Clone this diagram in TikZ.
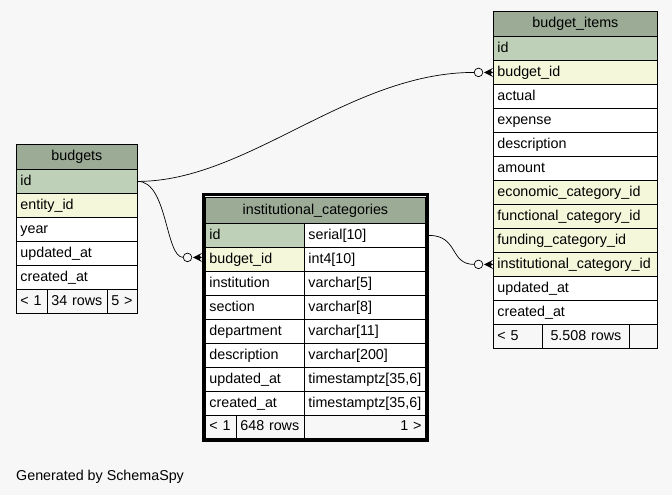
\documentclass[tikz,border=0pt]{standalone}
\usepackage{fontspec}
\setmainfont{Liberation Sans}
\begin{document}
\definecolor{bg}{HTML}{F7F7F7}
\definecolor{hdrc}{HTML}{9BAB96}
\definecolor{pkc}{HTML}{BED1B8}
\definecolor{fkc}{HTML}{F4F7DA}
\newcommand\erdfont{\fontsize{14.3}{17}\selectfont}
% crow's foot with an optional circle, ending at the given coordinate
\newcommand\erdcrow[1]{%
  \draw[edge, fill=bg] ([xshift=-14.5pt]#1) circle (4.3pt);
  \fill ([xshift=-9pt]#1) -- ([yshift=4.5pt]#1) -- ([xshift=-2.5pt,yshift=1.5pt]#1)
        -- (#1) -- ([xshift=-2.5pt,yshift=-1.5pt]#1) -- ([yshift=-4.5pt]#1) -- cycle;
}
\begin{tikzpicture}[x=1pt, y=-1pt,
  cell/.style={draw=black, line width=0.8pt, anchor=north west, inner xsep=4pt,
    inner ysep=0pt, minimum height=24pt, text height=10.5pt, text depth=3pt,
    align=left, font=\erdfont, fill=white},
  hdr/.style={cell, fill=hdrc, align=center, minimum height=25pt},
  pk/.style={cell, fill=pkc},
  fk/.style={cell, fill=fkc},
  foot/.style={cell, fill=bg},
  edge/.style={draw=black, line width=0.7pt}]
\useasboundingbox[fill=bg] (0,0) rectangle (672,495);

% ---------------- budgets ----------------
\node[hdr, text width=113pt] (b-h) at (16,144) {budgets};
\node[pk, text width=113pt] (b-id) at (16,169) {id};
\node[fk, text width=113pt] (b-ent) at (16,193) {entity\_id};
\node[cell, text width=113pt] (b-year) at (16,217) {year};
\node[cell, text width=113pt] (b-upd) at (16,241) {updated\_at};
\node[cell, text width=113pt] (b-cre) at (16,265) {created\_at};
\node[foot, text width=23pt] (b-f1) at (16,289) {< 1};
\node[foot, text width=52pt] (b-f2) at (47,289) {34 rows};
\node[foot, text width=22pt] (b-f3) at (107,289) {5 >};

% ---------------- budget_items ----------------
\node[hdr, text width=156pt] (bi-h) at (493,11) {budget\_items};
\node[pk, text width=156pt] (bi-id) at (493,36) {id};
\node[fk, text width=156pt] (bi-bid) at (493,60) {budget\_id};
\node[cell, text width=156pt] (bi-act) at (493,84) {actual};
\node[cell, text width=156pt] (bi-exp) at (493,108) {expense};
\node[cell, text width=156pt] (bi-desc) at (493,132) {description};
\node[cell, text width=156pt] (bi-amt) at (493,156) {amount};
\node[fk, text width=156pt] (bi-eco) at (493,180) {economic\_category\_id};
\node[fk, text width=156pt] (bi-fun) at (493,204) {functional\_category\_id};
\node[fk, text width=156pt] (bi-fnd) at (493,228) {funding\_category\_id};
\node[fk, text width=156pt] (bi-inst) at (493,252) {institutional\_category\_id};
\node[cell, text width=156pt] (bi-upd) at (493,276) {updated\_at};
\node[cell, text width=156pt] (bi-cre) at (493,300) {created\_at};
\node[foot, text width=41pt] (bi-f1) at (493,324) {< 5};
\node[foot, text width=79pt, align=center] (bi-f2) at (542,324) {5.508 rows};
\node[foot, text width=20pt] (bi-f3) at (629,324) {};

% ---------------- institutional_categories ----------------
\node[hdr, text width=212pt, minimum height=26pt] (ic-h) at (205,197) {institutional\_categories};
\node[pk, text width=91pt] (ic-id) at (205,223) {id};
\node[cell, text width=113pt] (ic-id-t) at (304,223) {serial[10]};
\node[fk, text width=91pt] (ic-bid) at (205,247) {budget\_id};
\node[cell, text width=113pt] (ic-bid-t) at (304,247) {int4[10]};
\node[cell, text width=91pt] (ic-inst) at (205,271) {institution};
\node[cell, text width=113pt] (ic-inst-t) at (304,271) {varchar[5]};
\node[cell, text width=91pt] (ic-sec) at (205,295) {section};
\node[cell, text width=113pt] (ic-sec-t) at (304,295) {varchar[8]};
\node[cell, text width=91pt] (ic-dep) at (205,319) {department};
\node[cell, text width=113pt] (ic-dep-t) at (304,319) {varchar[11]};
\node[cell, text width=91pt] (ic-desc) at (205,343) {description};
\node[cell, text width=113pt] (ic-desc-t) at (304,343) {varchar[200]};
\node[cell, text width=91pt] (ic-upd) at (205,367) {updated\_at};
\node[cell, text width=113pt] (ic-upd-t) at (304,367) {timestamptz[35,6]};
\node[cell, text width=91pt] (ic-cre) at (205,391) {created\_at};
\node[cell, text width=113pt] (ic-cre-t) at (304,391) {timestamptz[35,6]};
\node[foot, text width=23pt, minimum height=23pt] (ic-f1) at (205,415) {< 1};
\node[foot, text width=60pt, minimum height=23pt] (ic-f2) at (236,415) {648 rows};
\node[foot, text width=113pt, minimum height=23pt, align=right] (ic-f3) at (304,415) {1 >};
% thick frame of the selected table
\draw[line width=3pt] (ic-h.north west) ++(-1.5,-2.5) rectangle ([xshift=1.5pt,yshift=-1.5pt]ic-f3.south east);

% ---------------- relationships ----------------
\coordinate (bi-bid-in) at (bi-bid.west);
\coordinate (ic-bid-in) at ([xshift=-3pt,yshift=2pt]ic-bid.west);
\coordinate (bi-inst-in) at (bi-inst.west);

\draw[edge] (b-id.east) .. controls +(110,0) and +(-125,0) .. ([xshift=-18.8pt]bi-bid-in);
\erdcrow{bi-bid-in}

\draw[edge] (b-id.east) .. controls +(30,0) and +(-18,0) .. ([xshift=-18.8pt]ic-bid-in);
\erdcrow{ic-bid-in}

\draw[edge] ([xshift=3pt]ic-id-t.east) .. controls +(30,0) and +(-25,0) .. ([xshift=-18.8pt]bi-inst-in);
\erdcrow{bi-inst-in}

% ---------------- footer text ----------------
\node[font=\erdfont, anchor=base west, inner sep=0pt] (gen) at (16,480) {Generated by SchemaSpy};
\end{tikzpicture}
\end{document}
